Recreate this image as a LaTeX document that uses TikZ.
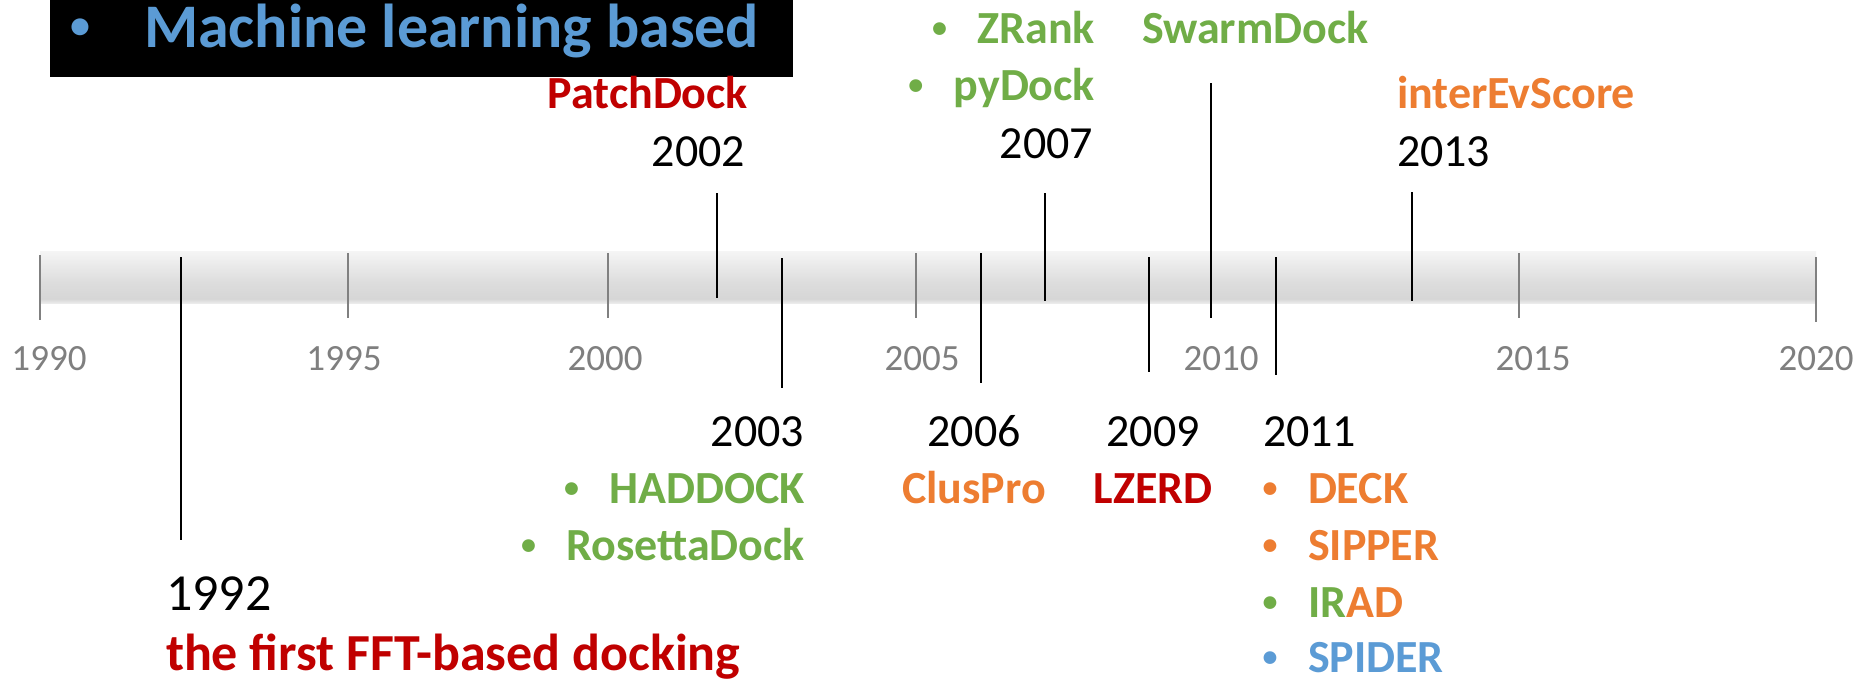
\documentclass[tikz,border=0pt]{standalone}
\usepackage{fontspec}
\setmainfont{Carlito}
\definecolor{cgreen}{HTML}{70AD47}
\definecolor{corange}{HTML}{ED7D31}
\definecolor{cred}{HTML}{C00000}
\definecolor{cblue}{HTML}{5B9BD5}
\definecolor{axgray}{HTML}{7F7F7F}
\definecolor{tickgray}{HTML}{808080}
\definecolor{bandlo}{HTML}{EBEBEB}
\definecolor{banddk}{HTML}{D6D6D6}
\definecolor{bandmd}{HTML}{DDDDDD}
\definecolor{bandhi}{HTML}{F5F5F5}
\pgfdeclareverticalshading{bandshade}{100bp}{color(0bp)=(bandlo); color(25bp)=(bandlo); color(29bp)=(banddk); color(45bp)=(bandmd); color(75bp)=(bandhi); color(100bp)=(bandhi)}
\begin{document}
\begin{tikzpicture}[x=1pt,y=-1pt,
  every node/.style={inner sep=0pt,outer sep=0pt},
  yr/.style={font=\fontsize{46}{50}\selectfont,text=black},
  bigyr/.style={font=\fontsize{52}{56}\selectfont,text=black},
  itm/.style={font=\fontsize{46}{50}\selectfont\bfseries},
  bul/.style={font=\fontsize{30}{34}\selectfont\bfseries,anchor=base},
  axl/.style={font=\fontsize{37}{40}\selectfont,text=axgray,anchor=base},
  evline/.style={draw=black,line width=2.4pt},
  tickline/.style={draw=tickgray,line width=2pt}]
\useasboundingbox (0,0) rectangle (1872,678);
\fill[white] (0,0) rectangle (1872,678);
% title box
\fill[black] (50,0) rectangle (793,77);
\node[anchor=base,text=cblue,font=\fontsize{40}{44}\selectfont\bfseries] (mlbul) at ([yshift=9pt]80,47) {•};
\node[anchor=base west,text=cblue,font=\fontsize{62}{68}\selectfont\bfseries] (ml) at (144,47) {Machine learning based};
% band
\shade[shading=bandshade] (40,251) rectangle (1816,303);
% year ticks
\foreach \x/\a/\b in {40/255/320,348/253/318,608/253/318,916/253/318,1211/253/318,1519/253/318,1816/257/322}
  \draw[tickline] (\x,\a) -- (\x,\b);
\node[axl] (y1990) at (49,370) {1990};
\node[axl] (y1995) at (344,370) {1995};
\node[axl] (y2000) at (605,370) {2000};
\node[axl] (y2005) at (922,370) {2005};
\node[axl] (y2010) at (1221,370) {2010};
\node[axl] (y2015) at (1533,370) {2015};
\node[axl] (y2020) at (1816,370) {2020};
% event lines
\draw[evline] (181,257) -- (181,540);
\draw[evline] (717,193) -- (717,298);
\draw[evline] (782,258) -- (782,388);
\draw[evline] (981,253) -- (981,383);
\draw[evline] (1045,193) -- (1045,301);
\draw[evline] (1149,257) -- (1149,372);
\draw[evline] (1211,83) -- (1211,318);
\draw[evline] (1276,257) -- (1276,375);
\draw[evline] (1412,192) -- (1412,301);
% top labels
\node[itm,text=cred,anchor=base east] (patch) at (748,108) {PatchDock};
\node[yr,anchor=base east] (e2002) at (745,166) {2002};
\node[itm,text=cgreen,anchor=base east] (zrank) at (1095,43) {ZRank};
\node[bul,text=cgreen] (bzrank) at ([xshift=-38pt,yshift=6pt]zrank.base west) {•};
\node[itm,text=cgreen,anchor=base east] (pydock) at (1095,100) {pyDock};
\node[bul,text=cgreen] (bpydock) at ([xshift=-38pt,yshift=6pt]pydock.base west) {•};
\node[yr,anchor=base east] (e2007) at (1093,158) {2007};
\node[itm,text=cgreen,anchor=base west] (swarm) at (1142,43) {SwarmDock};
\node[itm,text=corange,anchor=base west] (inter) at (1397,108) {interEvScore};
\node[yr,anchor=base west] (e2013) at (1397,166) {2013};
% bottom labels
\node[yr,anchor=base east] (e2003) at (804,446) {2003};
\node[itm,text=cgreen,anchor=base east] (hadd) at (805,503) {HADDOCK};
\node[bul,text=cgreen] (bhadd) at ([xshift=-38pt,yshift=6pt]hadd.base west) {•};
\node[itm,text=cgreen,anchor=base east] (ros) at (805,560) {RosettaDock};
\node[bul,text=cgreen] (bros) at ([xshift=-38pt,yshift=6pt]ros.base west) {•};
\node[yr,anchor=base] (e2006) at (974,446) {2006};
\node[itm,text=corange,anchor=base] (clus) at (974,503) {ClusPro};
\node[yr,anchor=base] (e2009) at (1153,446) {2009};
\node[itm,text=cred,anchor=base] (lzerd) at (1153,503) {LZERD};
\node[yr,anchor=base west] (e2011) at (1263,446) {2011};
\node[itm,text=corange,anchor=base west] (deck) at (1308,503) {DECK};
\node[bul,text=corange] (bdeck) at ([xshift=-38pt,yshift=6pt]deck.base west) {•};
\node[itm,text=corange,anchor=base west] (sipper) at (1308,560) {SIPPER};
\node[bul,text=corange] (bsipper) at ([xshift=-38pt,yshift=6pt]sipper.base west) {•};
\node[itm,anchor=base west] (irad) at (1308,617) {{\color{cgreen}IR}{\color{corange}AD}};
\node[bul,text=cgreen] (birad) at ([xshift=-38pt,yshift=6pt]irad.base west) {•};
\node[itm,text=cblue,anchor=base west] (spider) at (1308,672) {SPIDER};
\node[bul,text=cblue] (bspider) at ([xshift=-38pt,yshift=6pt]spider.base west) {•};
\node[bigyr,anchor=base west] (e1992) at (166,610) {1992};
\node[itm,text=cred,anchor=base west,font=\fontsize{52}{56}\selectfont\bfseries] (fft) at (166,670) {the first FFT-based docking};
\end{tikzpicture}
\end{document}
